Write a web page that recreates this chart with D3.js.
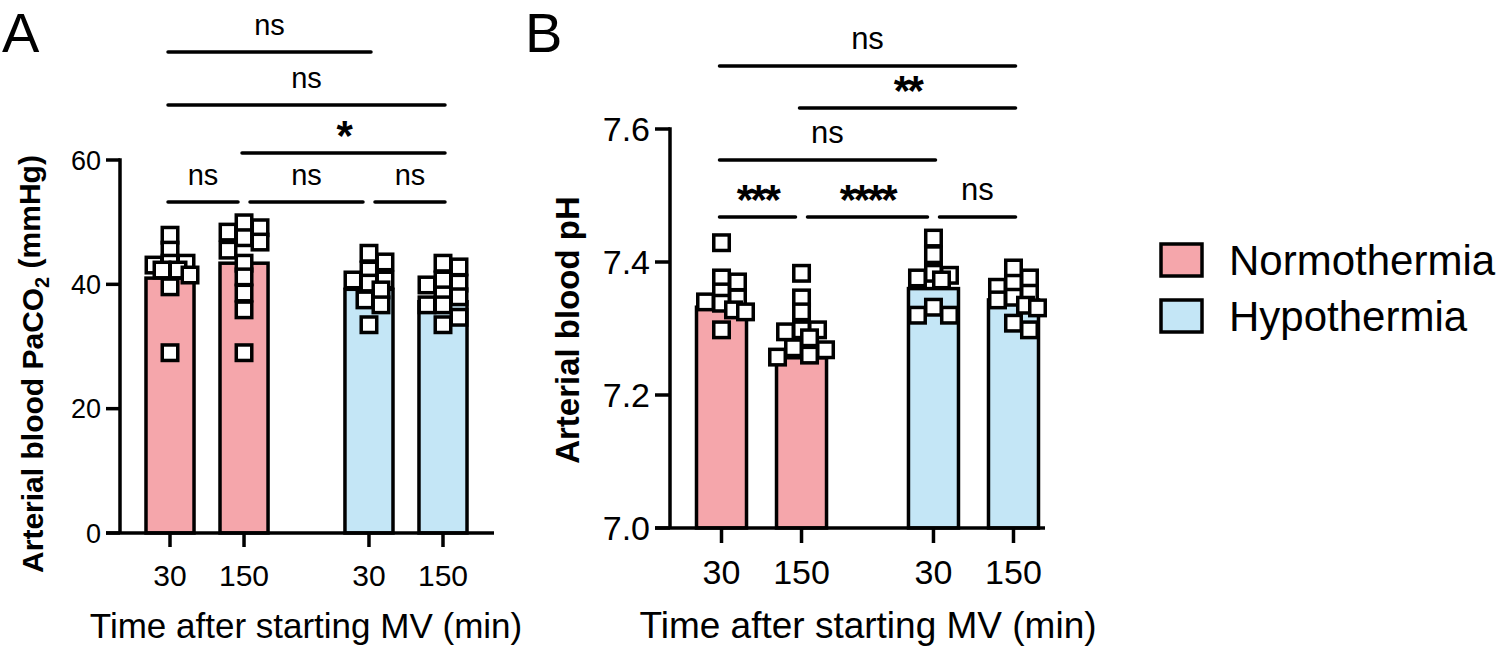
<!DOCTYPE html>
<html><head><meta charset="utf-8">
<script src="https://cdn.jsdelivr.net/npm/d3@7"></script>
<style>
body{margin:0;background:#fff}
svg{display:block}
text{font-family:"Liberation Sans",Arial,Helvetica,sans-serif;fill:#000}
</style>
</head><body>
<svg id="chart" width="1500" height="649"></svg>
<script>
// ---------------- DATA ----------------
const groups = ["Normothermia", "Hypothermia"];
const times = ["30", "150"];
const groupColors = ["#F5A6AB", "#C4E6F6"];

const yTicksA = [0, 20, 40, 60];
const yTicksB = [7.0, 7.2, 7.4, 7.6];

// Panel A: Arterial blood PaCO2 (mmHg)
const paco2Mean = [41.0, 43.4, 39.2, 37.2];
const paco2_N30  = [47.9, 45.5, 43.4, 42.3, 43.1, 43.4, 42.3, 39.6, 29.0, 41.5];
const paco2_N150 = [49.1, 49.9, 48.4, 47.5, 46.8, 45.5, 43.4, 41.2, 38.6, 35.9, 29.0];
const paco2_H30  = [45.0, 43.6, 42.3, 40.7, 40.7, 39.1, 36.7, 37.5, 33.5, 40.2];
const paco2_H150 = [43.4, 42.8, 40.7, 39.9, 40.2, 38.0, 36.7, 36.7, 34.7, 33.5, 38.3];

// Panel B: Arterial blood pH
const phMean = [7.332, 7.256, 7.360, 7.343];
const ph_N30  = [7.429, 7.376, 7.370, 7.355, 7.346, 7.340, 7.328, 7.325, 7.298, 7.338];
const ph_N150 = [7.383, 7.346, 7.325, 7.298, 7.298, 7.295, 7.271, 7.268, 7.260, 7.257, 7.286];
const ph_H30  = [7.436, 7.411, 7.383, 7.380, 7.376, 7.373, 7.320, 7.320, 7.332];
const ph_H150 = [7.391, 7.376, 7.368, 7.362, 7.353, 7.347, 7.343, 7.331, 7.308, 7.298, 7.335];

// comparisons: [barIndexA, barIndexB, label]
const compA = [[0,1,"ns"],[1,2,"ns"],[2,3,"ns"],[1,3,"*"],[0,3,"ns"],[0,2,"ns"]];
const compB = [[0,1,"***"],[1,2,"****"],[2,3,"ns"],[0,2,"ns"],[1,3,"**"],[0,3,"ns"]];

const xTitle = "Time after starting MV (min)";

// ---------------- DRAW ----------------
const svg = d3.select("#chart");
const SW = 3.5;

function panel(cfg) {
  const g = svg.append("g");
  const y = d3.scaleLinear().domain(cfg.yDomain).range(cfg.yRange);
  const xo = d3.scaleBand().domain(groups).range(cfg.xRange).paddingInner(cfg.outerPad).paddingOuter(0);
  const xi = d3.scaleBand().domain(times).range([0, xo.bandwidth()]).paddingInner(cfg.innerPad).paddingOuter(cfg.innerPad / 2);
  const bars = [];
  groups.forEach((gr, gi) => times.forEach((t, ti) => {
    const idx = gi * 2 + ti;
    bars.push({gi, ti, idx, x: xo(gr) + xi(t), w: xi.bandwidth(), cx: xo(gr) + xi(t) + xi.bandwidth() / 2,
      mean: cfg.means[idx], pts: cfg.points[idx], color: groupColors[gi], label: t});
  }));

  // bars
  g.selectAll("rect.bar").data(bars).join("rect")
    .attr("x", d => d.x).attr("width", d => d.w)
    .attr("y", d => y(d.mean)).attr("height", d => y(cfg.yDomain[0]) - y(d.mean))
    .attr("fill", d => d.color).attr("stroke", "#000").attr("stroke-width", SW);

  // points with simple beeswarm placement
  const outer = 19, side = outer - SW, minD = 12.5, maxOff = cfg.maxOff;
  bars.forEach(b => {
    const ps = b.pts.map(v => ({v, py: y(v)})).sort((a, c) => a.py - c.py);
    const placed = [];
    ps.forEach(p => {
      const cands = [0];
      for (let k = 4; k <= maxOff; k += 4) { cands.push(k, -k); }
      let best = null, bestScore = -1;
      for (const off of cands) {
        let md = Infinity;
        placed.forEach(q => { md = Math.min(md, Math.max(Math.abs(q.dx - off), Math.abs(q.py - p.py))); });
        if (md >= minD) { best = off; bestScore = Infinity; break; }
        if (md > bestScore) { bestScore = md; best = off; }
      }
      p.dx = best; placed.push(p);
    });
    g.selectAll(null).data(placed).join("rect")
      .attr("x", d => b.cx + d.dx - side / 2).attr("y", d => d.py - side / 2)
      .attr("width", side).attr("height", side)
      .attr("fill", "#fff").attr("stroke", "#000").attr("stroke-width", SW);
  });

  // y axis
  const ax = cfg.axisX;
  g.append("line").attr("x1", ax).attr("x2", ax).attr("y1", y(cfg.yDomain[1]) - SW / 2).attr("y2", y(cfg.yDomain[0]))
    .attr("stroke", "#000").attr("stroke-width", SW);
  g.selectAll("line.yt").data(cfg.yTicks).join("line")
    .attr("x1", ax - cfg.tickLen).attr("x2", ax).attr("y1", d => y(d)).attr("y2", d => y(d))
    .attr("stroke", "#000").attr("stroke-width", SW);
  g.selectAll("text.yt").data(cfg.yTicks).join("text")
    .attr("x", ax - cfg.tickLen - 5).attr("y", d => y(d)).attr("dy", "0.36em")
    .attr("text-anchor", "end").attr("font-size", cfg.yTickFont)
    .text(d => cfg.yFmt(d));

  // x axis
  const y0 = y(cfg.yDomain[0]);
  g.append("line").attr("x1", ax - cfg.tickLen).attr("x2", cfg.xAxisEnd).attr("y1", y0).attr("y2", y0)
    .attr("stroke", "#000").attr("stroke-width", SW);
  g.selectAll("line.xt").data(bars).join("line")
    .attr("x1", d => d.cx).attr("x2", d => d.cx).attr("y1", y0).attr("y2", y0 + cfg.tickLen)
    .attr("stroke", "#000").attr("stroke-width", SW);
  g.selectAll("text.xt").data(bars).join("text")
    .attr("x", d => d.cx).attr("y", cfg.xTickBase).attr("text-anchor", "middle")
    .attr("font-size", cfg.xTickFont).text(d => d.label);

  // x title
  g.append("text").attr("x", cfg.xTitleX).attr("y", cfg.xTitleBase).attr("text-anchor", "middle")
    .attr("font-size", cfg.xTitleFont).text(xTitle);

  // y title
  const yt = g.append("text").attr("transform", `translate(${cfg.yTitleX},${cfg.yTitleY}) rotate(-90)`)
    .attr("text-anchor", "middle").attr("dy", "0.36em")
    .attr("font-size", cfg.yTitleFont).attr("font-weight", "bold");
  cfg.yTitle(yt);

  // panel letter
  g.append("text").attr("x", cfg.letterX).attr("y", 52).attr("font-size", 56).text(cfg.letter);

  // comparison brackets with tier assignment
  const tiers = [];
  const comps = cfg.comps.map(c => ({a: c[0], b: c[1], label: c[2]}));
  comps.forEach(c => {
    let t = 0;
    while (true) {
      if (!tiers[t]) tiers[t] = [];
      const clash = tiers[t].some(o => !(c.b <= o.a || c.a >= o.b));
      if (!clash) break;
      t++;
    }
    c.tier = t; tiers[t].push(c);
  });
  comps.forEach(c => {
    const sharedL = tiers[c.tier].some(o => o !== c && o.b === c.a);
    const sharedR = tiers[c.tier].some(o => o !== c && o.a === c.b);
    const x1 = bars[c.a].cx + (sharedL ? 6 : -2);
    const x2 = bars[c.b].cx + (sharedR ? -6 : 2);
    const ly = cfg.tierY[c.tier];
    g.append("line").attr("x1", x1).attr("x2", x2).attr("y1", ly).attr("y2", ly)
      .attr("stroke", "#000").attr("stroke-width", SW).attr("stroke-linecap", "round");
    const star = c.label.indexOf("*") >= 0;
    g.append("text").attr("x", (x1 + x2) / 2)
      .attr("y", star ? ly - 3 : ly - 17)
      .attr("text-anchor", "middle")
      .attr("font-size", star ? cfg.starFont : cfg.nsFont)
      .attr("font-weight", star ? "bold" : "normal")
      .attr("letter-spacing", star ? -2.5 : 0)
      .text(c.label);
  });
}

panel({
  letter: "A", letterX: 2,
  yDomain: [0, 60], yRange: [533, 160], yTicks: yTicksA, yFmt: d3.format("d"),
  xRange: [133, 480], outerPad: 0.256, innerPad: 0.351, maxOff: 24,
  axisX: 120, xAxisEnd: 494, tickLen: 14,
  yTickFont: 27, xTickFont: 30, xTickBase: 586,
  xTitleX: 306, xTitleBase: 638, xTitleFont: 35,
  yTitleX: 32, yTitleY: 364, yTitleFont: 30,
  yTitle: t => { t.append("tspan").text("Arterial blood PaCO");
                 t.append("tspan").attr("font-size", 20).attr("dy", "0.3em").text("2");
                 t.append("tspan").attr("dy", "-0.3em").text(" (mmHg)"); },
  means: paco2Mean, points: [paco2_N30, paco2_N150, paco2_H30, paco2_H150],
  comps: compA, tierY: [202, 153, 105, 52], nsFont: 29, starFont: 42
});

panel({
  letter: "B", letterX: 525,
  yDomain: [7.0, 7.6], yRange: [528, 129], yTicks: yTicksB, yFmt: d3.format(".1f"),
  xRange: [681.5, 1053.5], outerPad: 0.245, innerPad: 0.375, maxOff: 24,
  axisX: 670, xAxisEnd: 1045, tickLen: 15,
  yTickFont: 34, xTickFont: 34, xTickBase: 584,
  xTitleX: 868, xTitleBase: 638, xTitleFont: 37,
  yTitleX: 567, yTitleY: 330, yTitleFont: 33,
  yTitle: t => { t.text("Arterial blood pH"); },
  means: phMean, points: [ph_N30, ph_N150, ph_H30, ph_H150],
  comps: compB, tierY: [217, 160, 108, 66], nsFont: 31, starFont: 42
});

// legend
const leg = svg.append("g");
groups.forEach((gname, i) => {
  leg.append("rect").attr("x", 1161).attr("y", 244 + i * 56).attr("width", 41).attr("height", 32)
    .attr("fill", groupColors[i]).attr("stroke", "#000").attr("stroke-width", SW);
  leg.append("text").attr("x", 1229).attr("y", 275 + i * 56).attr("font-size", 42).text(gname);
});
</script>
</body></html>
